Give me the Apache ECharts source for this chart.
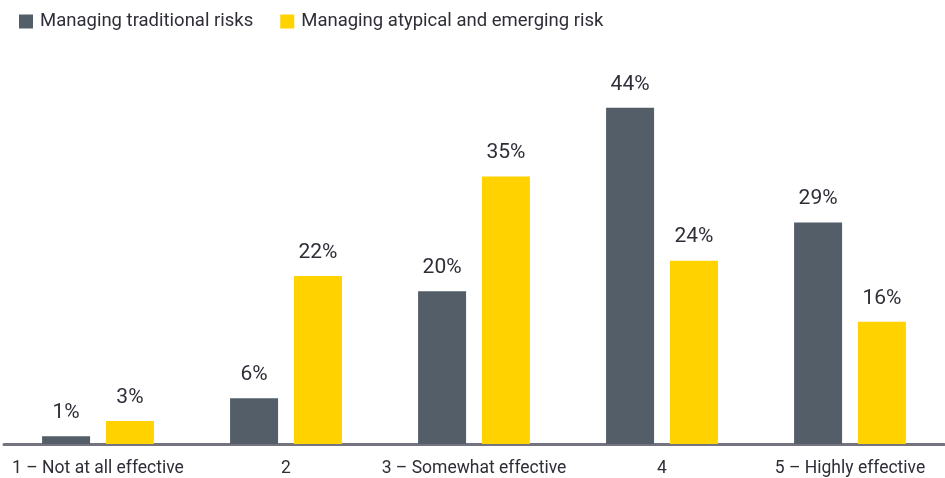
<!DOCTYPE html>
<html><head><meta charset="utf-8">
<script src="https://cdn.jsdelivr.net/npm/echarts@6/dist/echarts.min.js"></script>
<style>html,body{margin:0;padding:0;background:#fff}#c{width:945px;height:478px}</style>
</head><body><div id="c"></div>
<script>
const categories = ['1 – Not at all effective', '2', '3 – Somewhat effective', '4', '5 – Highly effective'];
const seriesNames = ['Managing traditional risks', 'Managing atypical and emerging risk'];
const traditional = [1, 6, 20, 44, 29];
const atypical = [3, 22, 35, 24, 16];
const colors = ['#535e69', '#ffd200'];
const font = 'Roboto';
const chart = echarts.init(document.getElementById('c'), null, {renderer: 'canvas'});
const lbl = {show: true, position: 'top', distance: 13, formatter: '{c}%', color: '#2e2e38', fontSize: 21, fontFamily: font};
chart.setOption({
  animation: false,
  legend: {
    left: 14, top: 7, itemWidth: 14, itemHeight: 14, itemGap: 27,
    icon: 'rect',
    textStyle: {fontSize: 18.5, color: '#2e2e38', fontFamily: font, padding: [0,0,0,2]},
    data: seriesNames
  },
  grid: {left: 4, right: 1, top: 62, bottom: 34, containLabel: false},
  xAxis: {
    type: 'category', data: categories,
    axisLine: {lineStyle: {color: '#747480', width: 3}},
    axisTick: {show: false},
    axisLabel: {fontSize: 17.5, color: '#2e2e38', fontFamily: font, margin: 16, interval: 0}
  },
  yAxis: {type: 'value', min: 0, max: 50, show: false, splitLine: {show: false}},
  series: [
    {name: seriesNames[0], type: 'bar', data: traditional, barWidth: 48, barGap: '33%', itemStyle: {color: colors[0]}, label: lbl},
    {name: seriesNames[1], type: 'bar', data: atypical, barWidth: 48, itemStyle: {color: colors[1]}, label: lbl}
  ]
});
</script></body></html>
